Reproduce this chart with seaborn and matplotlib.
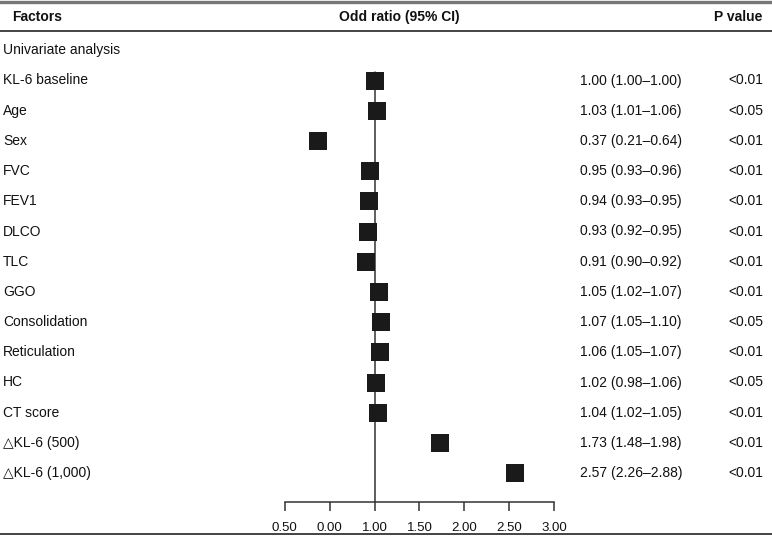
import matplotlib
matplotlib.use("Agg")
import matplotlib.pyplot as plt
import pandas as pd
import seaborn as sns

factors = ["KL-6 baseline", "Age", "Sex", "FVC", "FEV1", "DLCO", "TLC", "GGO",
           "Consolidation", "Reticulation", "HC", "CT score",
           "\u25b3KL-6 (500)", "\u25b3KL-6 (1,000)"]
odds = [1.00, 1.03, 0.37, 0.95, 0.94, 0.93, 0.91, 1.05, 1.07, 1.06, 1.02, 1.04, 1.73, 2.57]
ci_low = [1.00, 1.01, 0.21, 0.93, 0.93, 0.92, 0.90, 1.02, 1.05, 1.05, 0.98, 1.02, 1.48, 2.26]
ci_high = [1.00, 1.06, 0.64, 0.96, 0.95, 0.95, 0.92, 1.07, 1.10, 1.07, 1.06, 1.05, 1.98, 2.88]
p_values = ["<0.01", "<0.05", "<0.01", "<0.01", "<0.01", "<0.01", "<0.01", "<0.01",
            "<0.05", "<0.01", "<0.05", "<0.01", "<0.01", "<0.01"]
tick_values = [0.0, 0.5, 1.0, 1.5, 2.0, 2.5, 3.0]
tick_labels = ["0.50", "0.00", "1.00", "1.50", "2.00", "2.50", "3.00"]

df = pd.DataFrame({"factor": factors, "odds": odds, "low": ci_low, "high": ci_high, "p": p_values})
df["row"] = range(len(df))
df["label"] = [f"{o:.2f} ({l:.2f}\u2013{h:.2f})" for o, l, h in zip(df.odds, df.low, df.high)]

sns.set_style("white")
plt.rcParams["font.family"] = ["Liberation Sans", "DejaVu Sans"]

W, H = 772, 536
fig = plt.figure(figsize=(W / 100, H / 100), dpi=100)
ax = fig.add_axes([0, 0, 1, 1])

# pixel layout -> data coords
x0_px, x_scale = 284.7, 89.8
y0_px, y_step = 80.5, 30.2
ax.set_xlim(-x0_px / x_scale, (W - x0_px) / x_scale)
ax.set_ylim((H - y0_px) / y_step, -y0_px / y_step)


def py(p):
    return (p - y0_px) / y_step


def fx(p):
    return p / W


sns.scatterplot(data=df, x="odds", y="row", marker="s", s=150, color="#1a1a1a",
                linewidth=0, ax=ax, zorder=3, legend=False)

# reference line at OR = 1
ax.plot([1.0, 1.0], [py(72), py(502)], color="#333333", lw=1.1, zorder=2)

# x axis drawn with the bottom spine
for s in ["top", "right", "left"]:
    ax.spines[s].set_visible(False)
ax.spines["bottom"].set_position(("data", py(502)))
ax.spines["bottom"].set_bounds(tick_values[0], tick_values[-1])
ax.spines["bottom"].set_color("#333333")
ax.spines["bottom"].set_linewidth(1.1)
ax.set_xticks(tick_values)
ax.set_xticklabels(tick_labels)
ax.tick_params(axis="x", bottom=True, direction="out", length=6.5, width=1.1,
               color="#333333", pad=8, labelsize=9.5, labelcolor="#111111")
ax.set_yticks([])
ax.set_xlabel("")
ax.set_ylabel("")

# table rules
ax.axhline(py(1.5), color="#777777", lw=2.4)
ax.axhline(py(31), color="#111111", lw=1.1)
ax.axhline(py(534), color="#111111", lw=1.1)

trans = ax.get_yaxis_transform()
hdr = dict(fontsize=10, fontweight="bold", va="center", color="#111111", transform=trans)
ax.text(fx(12), py(17), "Factors", ha="left", **hdr)
ax.text(fx(399), py(17), "Odd ratio (95% CI)", ha="center", **hdr)
ax.text(fx(762), py(17), "P value", ha="right", **hdr)

body = dict(fontsize=10, va="center", color="#111111", transform=trans)
ax.text(fx(3), py(50), "Univariate analysis", ha="left", **body)
for r, row in df.iterrows():
    ax.text(fx(3), row["row"], row["factor"], ha="left", **body)
    ax.text(fx(580), row["row"], row["label"], ha="left", **body)
    ax.text(fx(763), row["row"], row["p"], ha="right", **body)

fig.savefig("out.png", dpi=100)
